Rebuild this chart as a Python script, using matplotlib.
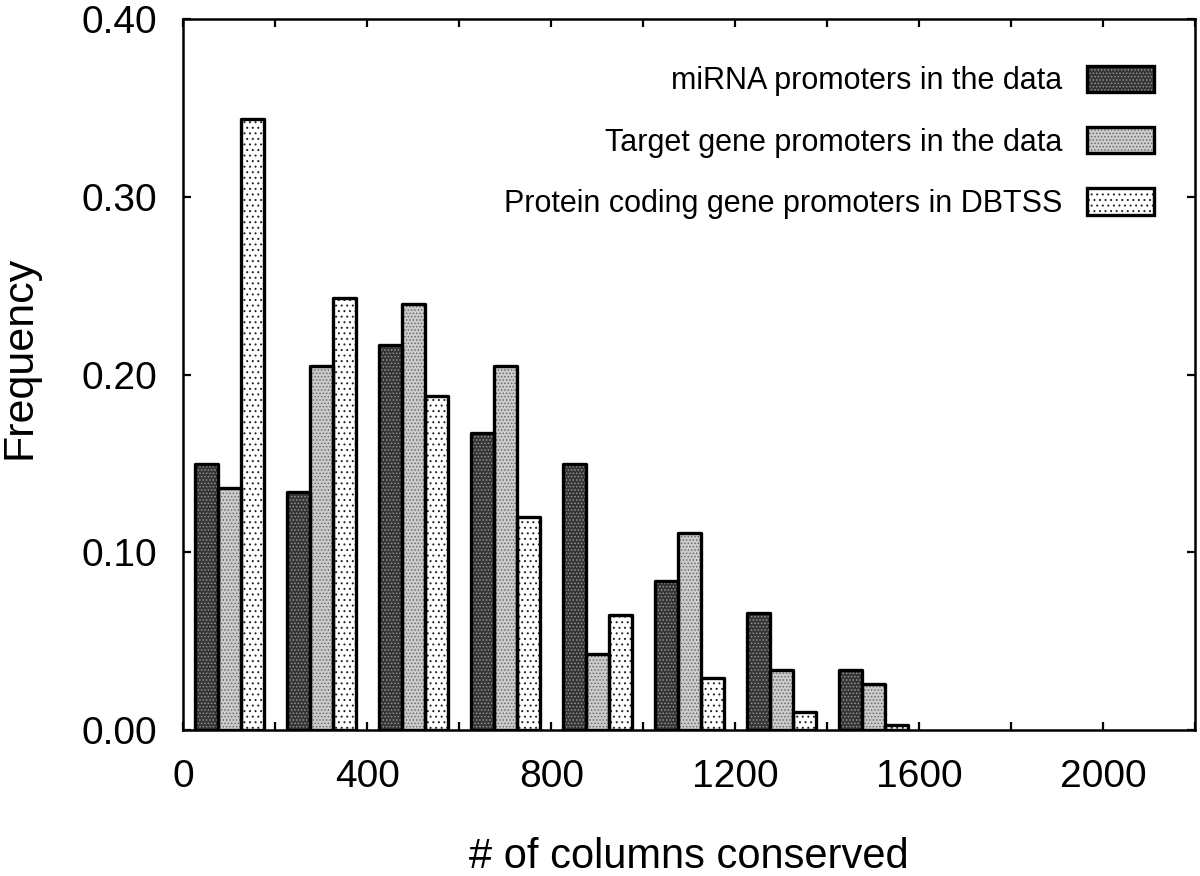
import numpy as np
import matplotlib
matplotlib.use("Agg")
import matplotlib.pyplot as plt
from matplotlib.ticker import MultipleLocator, FormatStrFormatter

# ── Data ─────────────────────────────────────────────────────────────────────
bin_centers = [100, 300, 500, 700, 900, 1100, 1300, 1500]
mirna_freq = [0.150, 0.134, 0.217, 0.167, 0.150, 0.084, 0.066, 0.034]
target_freq = [0.136, 0.205, 0.240, 0.205, 0.043, 0.111, 0.034, 0.026]
dbtss_freq = [0.344, 0.243, 0.188, 0.120, 0.065, 0.029, 0.010, 0.003]

labels = ["miRNA promoters in the data",
          "Target gene promoters in the data",
          "Protein coding gene promoters in DBTSS"]

# ── Style ────────────────────────────────────────────────────────────────────
plt.rcParams['font.family'] = ['Liberation Sans', 'DejaVu Sans']
plt.rcParams['hatch.linewidth'] = 0.7

BAR_W = 50
STYLES = [
    # facecolor, hatch, hatch colour
    ("#353535", ".....", "#949494"),
    ("#cccccc", ".....", "#6a6a6a"),
    ("#ffffff", "...", "#222222"),
]

fig = plt.figure(figsize=(12, 8.76), dpi=100)
ax = fig.add_axes([0.1529, 0.1667, 0.8429, 0.8111])

x = np.array(bin_centers, dtype=float)
handles = []
for i, (vals, (fc, hatch, hc)) in enumerate(zip([mirna_freq, target_freq, dbtss_freq], STYLES)):
    pos = x + (i - 1) * BAR_W
    fill = ax.bar(pos, vals, width=BAR_W, color=fc, edgecolor=hc,
                  hatch=hatch, linewidth=0, zorder=2)
    edge = ax.bar(pos, vals, width=BAR_W, fill=False, edgecolor="black",
                  linewidth=2.4, joinstyle="round", zorder=3)
    handles.append((fill, edge))

ax.set_xlim(0, 2200)
ax.set_ylim(0, 0.40)
ax.xaxis.set_major_locator(MultipleLocator(400))
ax.xaxis.set_minor_locator(MultipleLocator(200))
ax.yaxis.set_major_locator(MultipleLocator(0.10))
ax.yaxis.set_major_formatter(FormatStrFormatter("%.2f"))

ax.tick_params(which="both", direction="in", top=True, right=True,
               length=6, width=1.6, labelsize=28)
ax.tick_params(axis="y", pad=19)
ax.tick_params(axis="x", pad=21)
for sp in ax.spines.values():
    sp.set_linewidth(1.8)

ax.set_xlabel("# of columns conserved", fontsize=30, labelpad=30)
ax.set_ylabel("Frequency", fontsize=31, labelpad=30, y=0.525)

leg = ax.legend(handles, labels, loc="upper right", bbox_to_anchor=(0.9715, 0.952),
                markerfirst=False, frameon=False, fontsize=22,
                handlelength=2.2, handleheight=0.95, handletextpad=0.8,
                labelspacing=1.0, borderaxespad=0)

fig.savefig("out.png", dpi=100)
